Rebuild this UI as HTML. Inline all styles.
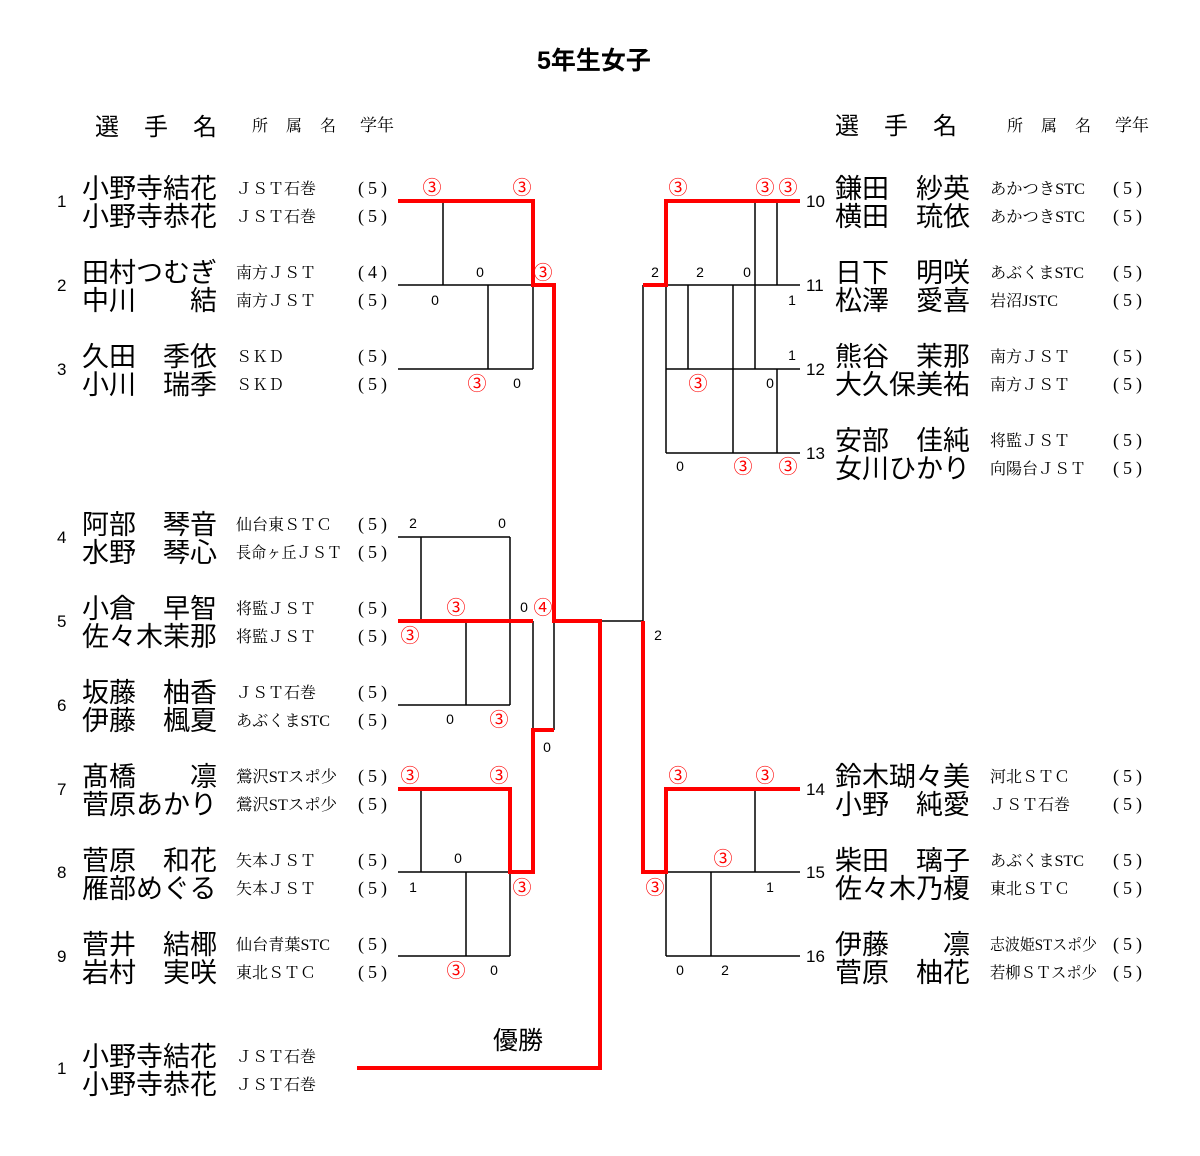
<!DOCTYPE html>
<html><head><meta charset="utf-8">
<style>
html,body{margin:0;padding:0;background:#fff;}
svg{display:block;}
.nm{font-family:"Liberation Sans","Noto Sans CJK JP",sans-serif;font-size:27px;fill:#000;white-space:pre;}
.af{font-family:"Liberation Serif","Noto Serif CJK SC",serif;font-size:16px;fill:#000;white-space:pre;}
.gr{font-family:"Liberation Serif","Noto Serif CJK SC",serif;font-size:18px;fill:#000;letter-spacing:4px;}
.no{font-family:"Liberation Sans",sans-serif;font-size:17px;fill:#000;}
.sc{font-family:"Liberation Sans",sans-serif;font-size:14px;fill:#000;text-anchor:middle;}
.rc{font-family:"Noto Sans CJK JP",sans-serif;font-size:19px;fill:#f00;text-anchor:middle;}
.hd{font-family:"Liberation Sans","Noto Sans CJK JP",sans-serif;font-size:24px;fill:#000;letter-spacing:25px;}
.hs{font-family:"Liberation Serif","Noto Serif CJK SC",serif;font-size:16px;fill:#000;letter-spacing:18px;}
.hg{font-family:"Liberation Serif","Noto Serif CJK SC",serif;font-size:17px;fill:#000;}
</style></head>
<body>
<svg width="1200" height="1156" viewBox="0 0 1200 1156" xmlns="http://www.w3.org/2000/svg">
<rect width="1200" height="1156" fill="#fff"/>
<!-- title -->
<text x="537" y="69" style="font-family:'Liberation Sans','Noto Sans CJK JP',sans-serif;font-size:25px;font-weight:bold;">5年生女子</text>
<!-- headers -->
<text class="hd" x="95" y="135">選手名</text>
<text class="hs" x="252" y="131">所属名</text>
<text class="hg" x="360" y="131">学年</text>
<text class="hd" x="835" y="134">選手名</text>
<text class="hs" x="1007" y="131">所属名</text>
<text class="hg" x="1115" y="131">学年</text>

<!-- black lines -->
<g stroke="#000" stroke-width="1.5" fill="none">
<path d="M398 285H533M398 369H533M443 201V285M488 285V369M533 285V369"/>
<path d="M398 537H510M398 705H510M421 537V621M510 537V705M466 621V705"/>
<path d="M398 872H510M398 956H510M421 789V872M510 872V956M466 872V956"/>
<path d="M533 621V730M554 621V730M600 621H643M643 285V621"/>
<path d="M666 285H800M666 369H800M666 453H800M755 201V369M777 201V285M688 285V369M733 285V453M777 369V453M666 285V453"/>
<path d="M666 872H800M666 956H800M755 789V872M711 872V956M666 872V956"/>
</g>
<!-- red lines -->
<g stroke="#f00" stroke-width="4" fill="none" stroke-linejoin="miter">
<path d="M398 201H533V285H554V621H600V1068H357"/>
<path d="M398 621H533"/>
<path d="M398 789H510V872H533V730H554"/>
<path d="M800 201H666V285H643"/>
<path d="M643 621V872H666V789H800"/>
</g>

<!-- left players -->
<g>
<text class="no" x="57" y="207">1</text>
<text class="nm" x="82" y="198">小野寺結花</text><text class="af" x="236" y="194">ＪＳＴ石巻</text><text class="gr" x="358" y="194">(5)</text>
<text class="nm" x="82" y="226">小野寺恭花</text><text class="af" x="236" y="222">ＪＳＴ石巻</text><text class="gr" x="358" y="222">(5)</text>

<text class="no" x="57" y="291">2</text>
<text class="nm" x="82" y="282">田村つむぎ</text><text class="af" x="236" y="278">南方ＪＳＴ</text><text class="gr" x="358" y="278">(4)</text>
<text class="nm" x="82" y="310">中川　　結</text><text class="af" x="236" y="306">南方ＪＳＴ</text><text class="gr" x="358" y="306">(5)</text>

<text class="no" x="57" y="375">3</text>
<text class="nm" x="82" y="366">久田　季依</text><text class="af" x="236" y="362">ＳＫＤ</text><text class="gr" x="358" y="362">(5)</text>
<text class="nm" x="82" y="394">小川　瑞季</text><text class="af" x="236" y="390">ＳＫＤ</text><text class="gr" x="358" y="390">(5)</text>

<text class="no" x="57" y="543">4</text>
<text class="nm" x="82" y="534">阿部　琴音</text><text class="af" x="236" y="530">仙台東ＳＴＣ</text><text class="gr" x="358" y="530">(5)</text>
<text class="nm" x="82" y="562">水野　琴心</text><text class="af" x="236" y="558" textLength="106" lengthAdjust="spacingAndGlyphs">長命ヶ丘ＪＳＴ</text><text class="gr" x="358" y="558">(5)</text>

<text class="no" x="57" y="627">5</text>
<text class="nm" x="82" y="618">小倉　早智</text><text class="af" x="236" y="614">将監ＪＳＴ</text><text class="gr" x="358" y="614">(5)</text>
<text class="nm" x="82" y="646">佐々木茉那</text><text class="af" x="236" y="642">将監ＪＳＴ</text><text class="gr" x="358" y="642">(5)</text>

<text class="no" x="57" y="711">6</text>
<text class="nm" x="82" y="702">坂藤　柚香</text><text class="af" x="236" y="698">ＪＳＴ石巻</text><text class="gr" x="358" y="698">(5)</text>
<text class="nm" x="82" y="730">伊藤　楓夏</text><text class="af" x="236" y="726" textLength="94" lengthAdjust="spacingAndGlyphs">あぶくまSTC</text><text class="gr" x="358" y="726">(5)</text>

<text class="no" x="57" y="795">7</text>
<text class="nm" x="82" y="786">髙橋　　凛</text><text class="af" x="236" y="782" textLength="101" lengthAdjust="spacingAndGlyphs">鶯沢STスポ少</text><text class="gr" x="358" y="782">(5)</text>
<text class="nm" x="82" y="814">菅原あかり</text><text class="af" x="236" y="810" textLength="101" lengthAdjust="spacingAndGlyphs">鶯沢STスポ少</text><text class="gr" x="358" y="810">(5)</text>

<text class="no" x="57" y="878">8</text>
<text class="nm" x="82" y="870">菅原　和花</text><text class="af" x="236" y="866">矢本ＪＳＴ</text><text class="gr" x="358" y="866">(5)</text>
<text class="nm" x="82" y="898">雁部めぐる</text><text class="af" x="236" y="894">矢本ＪＳＴ</text><text class="gr" x="358" y="894">(5)</text>

<text class="no" x="57" y="962">9</text>
<text class="nm" x="82" y="954">菅井　結椰</text><text class="af" x="236" y="950" textLength="94" lengthAdjust="spacingAndGlyphs">仙台青葉STC</text><text class="gr" x="358" y="950">(5)</text>
<text class="nm" x="82" y="982">岩村　実咲</text><text class="af" x="236" y="978">東北ＳＴＣ</text><text class="gr" x="358" y="978">(5)</text>

<text class="no" x="57" y="1074">1</text>
<text class="nm" x="82" y="1066">小野寺結花</text><text class="af" x="236" y="1062">ＪＳＴ石巻</text>
<text class="nm" x="82" y="1094">小野寺恭花</text><text class="af" x="236" y="1090">ＪＳＴ石巻</text>
</g>

<!-- right players -->
<g>
<text class="no" x="806" y="207">10</text>
<text class="nm" x="835" y="198">鎌田　紗英</text><text class="af" x="990" y="194" textLength="95" lengthAdjust="spacingAndGlyphs">あかつきSTC</text><text class="gr" x="1113" y="194">(5)</text>
<text class="nm" x="835" y="226">横田　琉依</text><text class="af" x="990" y="222" textLength="95" lengthAdjust="spacingAndGlyphs">あかつきSTC</text><text class="gr" x="1113" y="222">(5)</text>

<text class="no" x="806" y="291">11</text>
<text class="nm" x="835" y="282">日下　明咲</text><text class="af" x="990" y="278" textLength="94" lengthAdjust="spacingAndGlyphs">あぶくまSTC</text><text class="gr" x="1113" y="278">(5)</text>
<text class="nm" x="835" y="310">松澤　愛喜</text><text class="af" x="990" y="306" textLength="68" lengthAdjust="spacingAndGlyphs">岩沼JSTC</text><text class="gr" x="1113" y="306">(5)</text>

<text class="no" x="806" y="375">12</text>
<text class="nm" x="835" y="366">熊谷　茉那</text><text class="af" x="990" y="362">南方ＪＳＴ</text><text class="gr" x="1113" y="362">(5)</text>
<text class="nm" x="835" y="394">大久保美祐</text><text class="af" x="990" y="390">南方ＪＳＴ</text><text class="gr" x="1113" y="390">(5)</text>

<text class="no" x="806" y="459">13</text>
<text class="nm" x="835" y="450">安部　佳純</text><text class="af" x="990" y="446">将監ＪＳＴ</text><text class="gr" x="1113" y="446">(5)</text>
<text class="nm" x="835" y="478">女川ひかり</text><text class="af" x="990" y="474">向陽台ＪＳＴ</text><text class="gr" x="1113" y="474">(5)</text>

<text class="no" x="806" y="795">14</text>
<text class="nm" x="835" y="786">鈴木瑚々美</text><text class="af" x="990" y="782">河北ＳＴＣ</text><text class="gr" x="1113" y="782">(5)</text>
<text class="nm" x="835" y="814">小野　純愛</text><text class="af" x="990" y="810">ＪＳＴ石巻</text><text class="gr" x="1113" y="810">(5)</text>

<text class="no" x="806" y="878">15</text>
<text class="nm" x="835" y="870">柴田　璃子</text><text class="af" x="990" y="866" textLength="94" lengthAdjust="spacingAndGlyphs">あぶくまSTC</text><text class="gr" x="1113" y="866">(5)</text>
<text class="nm" x="835" y="898">佐々木乃榎</text><text class="af" x="990" y="894">東北ＳＴＣ</text><text class="gr" x="1113" y="894">(5)</text>

<text class="no" x="806" y="962">16</text>
<text class="nm" x="835" y="954">伊藤　　凛</text><text class="af" x="990" y="950" textLength="107" lengthAdjust="spacingAndGlyphs">志波姫STスポ少</text><text class="gr" x="1113" y="950">(5)</text>
<text class="nm" x="835" y="982">菅原　柚花</text><text class="af" x="990" y="978" textLength="107" lengthAdjust="spacingAndGlyphs">若柳ＳＴスポ少</text><text class="gr" x="1113" y="978">(5)</text>
</g>

<!-- scores left -->
<g>
<text class="rc" x="432" y="194">③</text><text class="rc" x="522" y="194">③</text>
<text class="sc" x="480" y="277">0</text><text class="rc" x="543" y="279">③</text>
<text class="sc" x="435" y="305">0</text>
<text class="rc" x="477" y="390">③</text><text class="sc" x="517" y="388">0</text>

<text class="sc" x="413" y="528">2</text><text class="sc" x="502" y="528">0</text>
<text class="rc" x="456" y="614">③</text><text class="sc" x="524" y="612">0</text><text class="rc" x="543" y="614">④</text>
<text class="rc" x="410" y="642">③</text>
<text class="sc" x="450" y="724">0</text><text class="rc" x="499" y="726">③</text>
<text class="sc" x="547" y="752">0</text>

<text class="rc" x="410" y="782">③</text><text class="rc" x="499" y="782">③</text>
<text class="sc" x="458" y="863">0</text>
<text class="sc" x="413" y="892">1</text><text class="rc" x="522" y="894">③</text>
<text class="rc" x="456" y="977">③</text><text class="sc" x="494" y="975">0</text>
</g>
<!-- scores right -->
<g>
<text class="rc" x="678" y="194">③</text><text class="rc" x="765" y="194">③</text><text class="rc" x="788" y="194">③</text>
<text class="sc" x="655" y="277">2</text><text class="sc" x="700" y="277">2</text><text class="sc" x="747" y="277">0</text>
<text class="sc" x="792" y="305">1</text>
<text class="sc" x="792" y="360">1</text>
<text class="rc" x="698" y="390">③</text><text class="sc" x="770" y="388">0</text>
<text class="sc" x="680" y="471">0</text><text class="rc" x="743" y="473">③</text><text class="rc" x="788" y="473">③</text>
<text class="sc" x="658" y="640">2</text>

<text class="rc" x="678" y="782">③</text><text class="rc" x="765" y="782">③</text>
<text class="rc" x="723" y="865">③</text>
<text class="rc" x="655" y="894">③</text><text class="sc" x="770" y="892">1</text>
<text class="sc" x="680" y="975">0</text><text class="sc" x="725" y="975">2</text>
</g>

<text x="493" y="1049" style="font-family:'Liberation Sans','Noto Sans CJK JP',sans-serif;font-size:25px;">優勝</text>
</svg>
</body></html>
